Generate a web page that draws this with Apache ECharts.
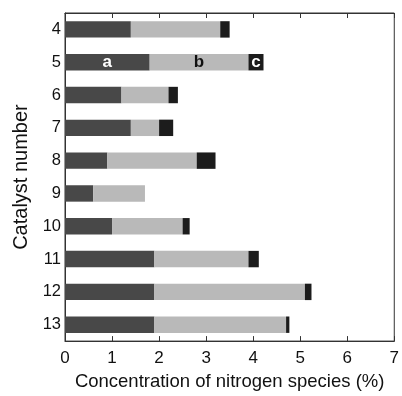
<!DOCTYPE html>
<html><head><meta charset="utf-8">
<script src="https://cdn.jsdelivr.net/npm/echarts@6/dist/echarts.min.js"></script>
<style>html,body{margin:0;padding:0;background:#fff}#c{width:402px;height:396px}</style>
</head><body><div id="c"></div>
<script>
var categories = ['4','5','6','7','8','9','10','11','12','13'];
var seriesA = [1.4, 1.8, 1.2, 1.4, 0.9, 0.6, 1.0, 1.9, 1.9, 1.9];
var seriesB = [1.9, 2.1, 1.0, 0.6, 1.9, 1.1, 1.5, 2.0, 3.2, 2.8];
var seriesC = [0.2, 0.32, 0.2, 0.3, 0.4, 0, 0.15, 0.22, 0.14, 0.07];
var segmentNames = ['a','b','c'];
var xTicks = [0,1,2,3,4,5,6,7];

var chart = echarts.init(document.getElementById('c'));
var font = 'Liberation Sans, Arial, sans-serif';
function mk(name, data, color, labelColor){
  return {
    name: name, type: 'bar', stack: 'n', barWidth: '50%', data: data.map(function(v,i){
      var d = {value: v};
      if (categories[i] === '5') {
        d.label = {show: true, position: 'inside', formatter: name, color: labelColor,
          fontWeight: 'bold', fontSize: 17, fontFamily: font};
      }
      return d;
    }),
    itemStyle: {color: color}, animation: false
  };
}
chart.setOption({
  animation: false,
  grid: {left: 65, right: 4, top: 13, bottom: 50, show: true, borderColor: '#333', borderWidth: 1},
  xAxis: [{
    type: 'value', min: xTicks[0], max: xTicks[xTicks.length-1], interval: 1,
    name: 'Concentration of nitrogen species (%)', nameLocation: 'middle', nameGap: 30,
    nameTextStyle: {fontSize: 18.5, color: '#111', fontFamily: font},
    axisLine: {show: true, lineStyle: {color: '#333'}},
    axisTick: {show: true, inside: true, length: 5, lineStyle: {color: '#333'}},
    axisLabel: {fontSize: 17, color: '#111', fontFamily: font, margin: 9},
    splitLine: {show: false}
  },{
    type: 'value', position: 'top', min: xTicks[0], max: xTicks[xTicks.length-1], interval: 1,
    axisLine: {show: true, lineStyle: {color: '#333'}},
    axisTick: {show: true, inside: true, length: 5, lineStyle: {color: '#333'}},
    axisLabel: {show: false}, splitLine: {show: false}
  }],
  yAxis: {
    type: 'category', data: categories, inverse: true,
    name: 'Catalyst number', nameLocation: 'middle', nameGap: 32, nameRotate: 90,
    nameTextStyle: {fontSize: 20, color: '#111', fontFamily: font},
    axisLine: {show: true, lineStyle: {color: '#333'}},
    axisTick: {show: false},
    axisLabel: {fontSize: 16.5, color: '#111', fontFamily: font, margin: 4}
  },
  series: [
    mk(segmentNames[0], seriesA, '#484848', '#fff'),
    mk(segmentNames[1], seriesB, '#b9b9b9', '#111'),
    mk(segmentNames[2], seriesC, '#1c1c1c', '#fff')
  ]
});
</script></body></html>
